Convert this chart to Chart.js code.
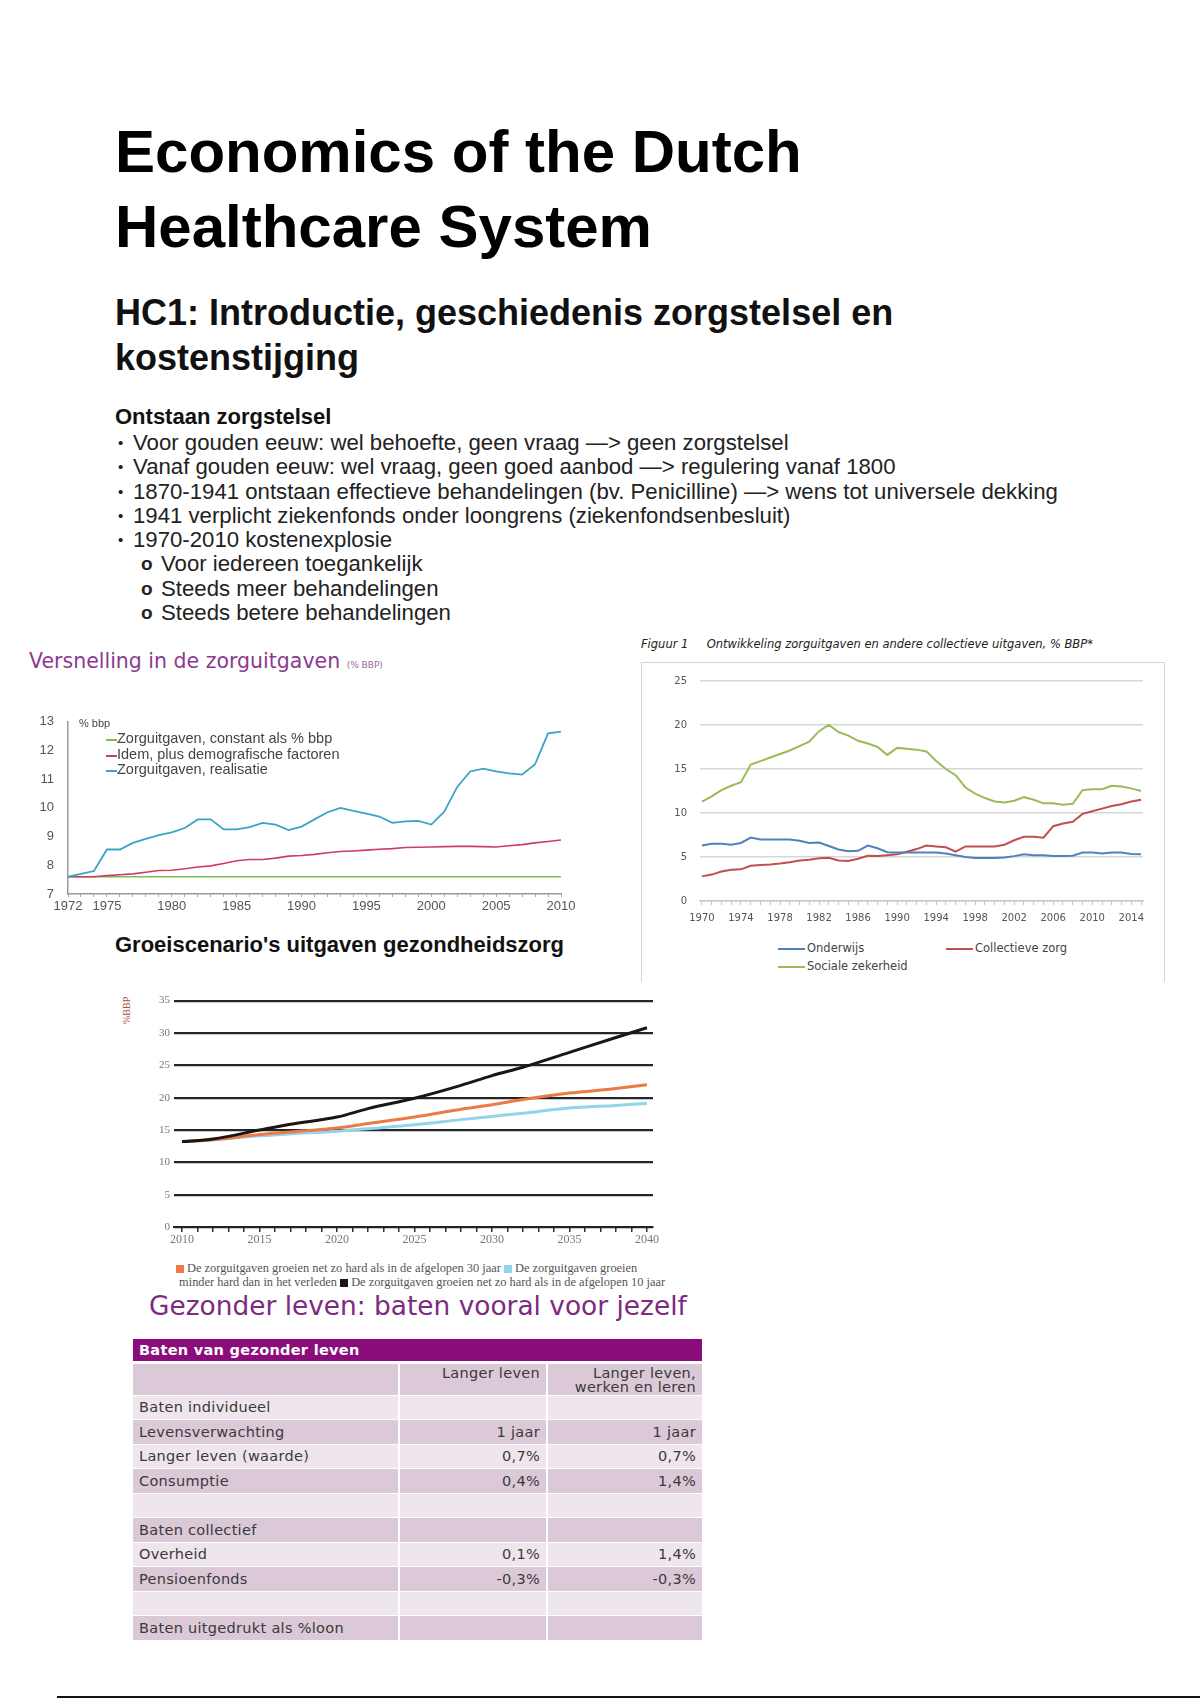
<!DOCTYPE html>
<html lang="nl">
<head>
<meta charset="utf-8">
<title>Economics of the Dutch Healthcare System</title>
<script src="https://cdn.jsdelivr.net/npm/chart.js@4.4.0/dist/chart.umd.min.js"></script>
<style>
  html, body { margin: 0; padding: 0; background: #fff; }
  body { width: 1200px; height: 1700px; position: relative; overflow: hidden; font-family: "Liberation Sans", Arial, sans-serif; color: #111; }
  .abs { position: absolute; white-space: nowrap; }
  #titel { left: 115px; top: 114px; font-size: 60px; line-height: 75px; font-weight: bold; color: #000; }
  #hc1 { left: 115px; top: 290px; font-size: 36px; line-height: 45px; font-weight: bold; color: #111; }
  #ontstaan { left: 115px; top: 405px; font-size: 22px; line-height: 24px; font-weight: bold; }
  #punten { left: 118px; top: 431px; font-size: 22.2px; line-height: 24.3px; color: #222; }
  #punten div { position: relative; padding-left: 15px; }
  #punten div.sub { padding-left: 43px; }
  #punten div::before { content: "\2022"; position: absolute; left: 0; font-size: 15px; }
  #punten div.sub::before { content: "o"; left: 23px; font-weight: bold; font-size: 19px; }
  #titel1 { left: 29px; top: 651px; font-family: "DejaVu Sans", sans-serif; font-size: 20.5px; line-height: 20.5px; color: #8b3a8f; }
  #titel1 small { font-size: 9px; color: #9a6a9a; }
  #legenda1 { left: 79px; top: 716px; font-size: 14.5px; line-height: 15.3px; color: #444; }
  #legenda1 .kop { font-size: 11px; }
  #legenda1 .item { padding-left: 38px; position: relative; }
  #legenda1 .item span { position: absolute; left: 27px; top: 8px; width: 11px; height: 2px; }
  #figuur2kader { position: absolute; left: 641px; top: 662px; width: 524px; height: 320px; border: 1.5px solid #c9d6e4; border-bottom: none; box-sizing: border-box; }
  #titel2 { left: 641px; top: 637px; font-family: "DejaVu Sans", sans-serif; font-style: italic; font-size: 11.5px; color: #222; }
  .leg2 { font-family: "DejaVu Sans", sans-serif; font-size: 11.5px; color: #444; }
  .leg2 span { position: absolute; left: -29px; top: 7px; width: 27px; height: 2px; }
  #groei { left: 115px; top: 934px; font-size: 22px; line-height: 22px; font-weight: bold; color: #111; }
  #bbp { left: 121px; font-family: "Liberation Serif", serif; font-size: 10px; color: #a0503c; transform: rotate(-90deg); transform-origin: left top; top: 1024px; }
  #legenda3 { left: 176px; top: 1261px; font-family: "Liberation Serif", serif; font-size: 12.4px; line-height: 14px; color: #555; }
  #legenda3 i { display: inline-block; width: 8px; height: 8px; margin-right: 3px; vertical-align: -1px; }
  #gezonder { left: 149px; top: 1293px; font-family: "DejaVu Sans", sans-serif; font-size: 26.4px; line-height: 26.4px; color: #7d2a7f; }
  #baten { position: absolute; left: 133px; top: 1339px; width: 569px; border-collapse: collapse; font-family: "DejaVu Sans", sans-serif; font-size: 14.5px; letter-spacing: 0.3px; color: #3a3a3a; }
  #baten td { padding: 0 6px; height: 24.5px; box-sizing: border-box; border-bottom: 1px solid #fff; white-space: nowrap; }
  #baten td:nth-child(1) { width: 266px; border-right: 2px solid #fff; }
  #baten td:nth-child(2) { width: 148px; border-right: 2px solid #fff; text-align: right; }
  #baten td:nth-child(3) { text-align: right; }
  #baten tr.kop td { background: #8b0d7c; color: #fff; font-weight: bold; height: 23px; border-bottom: 3px solid #fff; border-right: none; }
  #baten tr.sub td { height: 32px; vertical-align: top; padding-top: 2px; line-height: 14.5px; }
  #baten tr.donker td { background: #dcc9d7; }
  #baten tr.licht td { background: #efe5ed; }
  #lijn { position: absolute; left: 57px; top: 1696px; width: 1143px; height: 2px; background: #111; }
  canvas { position: absolute; }
</style>
</head>
<body>

<div id="titel" class="abs">Economics of the Dutch<br>Healthcare System</div>
<div id="hc1" class="abs">HC1: Introductie, geschiedenis zorgstelsel en<br>kostenstijging</div>
<div id="ontstaan" class="abs">Ontstaan zorgstelsel</div>
<div id="punten" class="abs">
  <div>Voor gouden eeuw: wel behoefte, geen vraag —&gt; geen zorgstelsel</div>
  <div>Vanaf gouden eeuw: wel vraag, geen goed aanbod —&gt; regulering vanaf 1800</div>
  <div>1870-1941 ontstaan effectieve behandelingen (bv. Penicilline) —&gt; wens tot universele dekking</div>
  <div>1941 verplicht ziekenfonds onder loongrens (ziekenfondsenbesluit)</div>
  <div>1970-2010 kostenexplosie</div>
  <div class="sub">Voor iedereen toegankelijk</div>
  <div class="sub">Steeds meer behandelingen</div>
  <div class="sub">Steeds betere behandelingen</div>
</div>

<!-- grafiek 1 -->
<div id="titel1" class="abs">Versnelling in de zorguitgaven <small>(% BBP)</small></div>
<canvas id="grafiek1" width="580" height="225" style="left:20px;top:700px"></canvas>
<div id="legenda1" class="abs"></div>

<!-- grafiek 2 -->
<div id="titel2" class="abs">Figuur 1&nbsp;&nbsp;&nbsp;&nbsp; Ontwikkeling zorguitgaven en andere collectieve uitgaven, % BBP*</div>
<div id="figuur2kader"></div>
<canvas id="grafiek2" width="525" height="270" style="left:641px;top:662px"></canvas>
<div id="legenda2"></div>

<!-- grafiek 3 -->
<div id="groei" class="abs">Groeiscenario's uitgaven gezondheidszorg</div>
<div id="bbp" class="abs">%BBP</div>
<canvas id="grafiek3" width="560" height="262" style="left:110px;top:990px"></canvas>
<div id="legenda3" class="abs"></div>

<!-- tabel -->
<div id="gezonder" class="abs">Gezonder leven: baten vooral voor jezelf</div>
<table id="baten"></table>

<div id="lijn"></div>

<script>
// Grafiek 1: versnelling in de zorguitgaven (% bbp)
const jaren1 = [1972, 1973, 1974, 1975, 1976, 1977, 1978, 1979, 1980, 1981, 1982, 1983, 1984,
    1985, 1986, 1987, 1988, 1989, 1990, 1991, 1992, 1993, 1994, 1995, 1996, 1997, 1998, 1999,
    2000, 2001, 2002, 2003, 2004, 2005, 2006, 2007, 2008, 2009, 2010];
const xLabels1 = [1972, 1975, 1980, 1985, 1990, 1995, 2000, 2005, 2010];
const constant1 = [7.6, 7.6, 7.6, 7.6, 7.6, 7.6, 7.6, 7.6, 7.6, 7.6, 7.6, 7.6, 7.6,
    7.6, 7.6, 7.6, 7.6, 7.6, 7.6, 7.6, 7.6, 7.6, 7.6, 7.6, 7.6, 7.6, 7.6, 7.6,
    7.6, 7.6, 7.6, 7.6, 7.6, 7.6, 7.6, 7.6, 7.6, 7.6, 7.6];
const demografie1 = [7.6, 7.6, 7.6, 7.64, 7.67, 7.7, 7.76, 7.82, 7.83, 7.88, 7.94, 7.98, 8.06,
    8.16, 8.2, 8.2, 8.25, 8.32, 8.34, 8.38, 8.44, 8.48, 8.5, 8.53, 8.56, 8.58, 8.62, 8.63,
    8.64, 8.65, 8.66, 8.66, 8.65, 8.64, 8.68, 8.72, 8.78, 8.83, 8.88];
const realisatie1 = [7.6, 7.7, 7.8, 8.55, 8.55, 8.78, 8.92, 9.05, 9.15, 9.3, 9.6, 9.6, 9.25,
    9.25, 9.33, 9.48, 9.42, 9.23, 9.35, 9.6, 9.85, 10.0, 9.9, 9.8, 9.7, 9.48, 9.53, 9.55,
    9.42, 9.87, 10.73, 11.27, 11.37, 11.27, 11.2, 11.16, 11.52, 12.6, 12.66];
const namen1 = ["Zorguitgaven, constant als % bbp", "Idem, plus demografische factoren", "Zorguitgaven, realisatie"];
const kleuren1 = ["#7cc043", "#d03a68", "#3ba3c6"];

// Grafiek 2: ontwikkeling zorguitgaven en andere collectieve uitgaven
const jaren2 = [1970, 1971, 1972, 1973, 1974, 1975, 1976, 1977, 1978, 1979, 1980, 1981, 1982,
    1983, 1984, 1985, 1986, 1987, 1988, 1989, 1990, 1991, 1992, 1993, 1994, 1995, 1996, 1997,
    1998, 1999, 2000, 2001, 2002, 2003, 2004, 2005, 2006, 2007, 2008, 2009, 2010, 2011, 2012,
    2013, 2014, 2015];
const xLabels2 = [1970, 1974, 1978, 1982, 1986, 1990, 1994, 1998, 2002, 2006, 2010, 2014];
const onderwijs2 = [6.3, 6.5, 6.5, 6.4, 6.6, 7.2, 7.0, 7.0, 7.0, 7.0, 6.85, 6.6, 6.65,
    6.25, 5.85, 5.65, 5.7, 6.3, 6.0, 5.55, 5.5, 5.5, 5.5, 5.5, 5.5, 5.4, 5.2, 5.0,
    4.9, 4.9, 4.9, 4.95, 5.1, 5.3, 5.2, 5.2, 5.1, 5.1, 5.15, 5.5, 5.5, 5.4, 5.5,
    5.5, 5.35, 5.3];
const zorg2 = [2.8, 3.0, 3.35, 3.55, 3.6, 4.0, 4.1, 4.15, 4.25, 4.4, 4.6, 4.7, 4.85,
    4.9, 4.6, 4.55, 4.8, 5.15, 5.1, 5.2, 5.3, 5.6, 5.9, 6.3, 6.2, 6.1, 5.6, 6.2,
    6.2, 6.2, 6.2, 6.4, 6.9, 7.3, 7.3, 7.2, 8.5, 8.8, 9.0, 9.9, 10.2, 10.5, 10.8,
    11.0, 11.3, 11.5];
const sociaal2 = [11.3, 11.9, 12.6, 13.1, 13.5, 15.5, 15.9, 16.3, 16.7, 17.1, 17.6, 18.1, 19.3,
    20.0, 19.2, 18.8, 18.2, 17.9, 17.5, 16.6, 17.4, 17.3, 17.2, 17.0, 15.9, 15.0, 14.3, 12.9,
    12.2, 11.7, 11.3, 11.2, 11.4, 11.8, 11.5, 11.1, 11.1, 10.95, 11.05, 12.6, 12.7, 12.7, 13.1,
    13.0, 12.8, 12.5];
const namen2 = ["Onderwijs", "Collectieve zorg", "Sociale zekerheid"];
const kleuren2 = ["#4f81bd", "#c0504d", "#9bbb59"];

// Grafiek 3: groeiscenario's uitgaven gezondheidszorg
const jaren3 = [2010, 2012, 2015, 2017, 2020, 2022, 2025, 2028, 2030, 2032, 2035, 2038, 2040];
const xLabels3 = [2010, 2015, 2020, 2025, 2030, 2035, 2040];
const tienJaar3 = [13.2, 13.6, 15.0, 15.9, 17.0, 18.3, 19.9, 21.9, 23.4, 24.7, 27.0, 29.3, 30.8];
const dertigJaar3 = [13.2, 13.5, 14.3, 14.7, 15.3, 16.0, 17.0, 18.2, 18.9, 19.7, 20.7, 21.4, 22.0];
const minder3 = [13.2, 13.5, 14.1, 14.4, 14.8, 15.2, 15.8, 16.6, 17.1, 17.6, 18.4, 18.8, 19.1];
const namen3 = ["De zorguitgaven groeien net zo hard als in de afgelopen 30 jaar",
    "De zorguitgaven groeien minder hard dan in het verleden",
    "De zorguitgaven groeien net zo hard als in de afgelopen 10 jaar"];
const kleuren3 = ["#ec7a45", "#93d3ec", "#1e1410"];

// Tabel: baten van gezonder leven
const tabelRijen = ["Baten individueel", "Levensverwachting", "Langer leven (waarde)", "Consumptie", "",
    "Baten collectief", "Overheid", "Pensioenfonds", "", "Baten uitgedrukt als %loon"];
const langerLeven = ["", "1 jaar", "0,7%", "0,4%", "", "", "0,1%", "-0,3%", "", ""];
const langerWerken = ["", "1 jaar", "0,7%", "1,4%", "", "", "1,4%", "-0,3%", "", ""];

function punten(xs, ys) {
    return xs.map((x, i) => ({ x: x, y: ys[i] }));
}

function lijn(label, xs, ys, kleur, dikte) {
    return {
        label: label,
        data: punten(xs, ys),
        borderColor: kleur,
        backgroundColor: kleur,
        borderWidth: dikte,
        pointRadius: 0,
        fill: false,
        tension: 0
    };
}

// tick op elk heel jaar tussen min en max
function heleJaren(a) {
    const t = [];
    for (let j = Math.ceil(a.min); j <= Math.floor(a.max); j++) t.push({ value: j });
    a.ticks = t;
}

Chart.defaults.animation = false;
Chart.defaults.plugins.legend.display = false;
Chart.defaults.plugins.tooltip.enabled = false;

// ---------- grafiek 1 ----------
new Chart(document.getElementById("grafiek1"), {
    type: "line",
    data: {
        datasets: [
            lijn(namen1[2], jaren1, realisatie1, kleuren1[2], 1.8),
            lijn(namen1[1], jaren1, demografie1, kleuren1[1], 1.6),
            lijn(namen1[0], jaren1, constant1, kleuren1[0], 1.6)
        ]
    },
    options: {
        responsive: false,
        layout: { autoPadding: false, padding: { left: 0, right: 39, top: 18, bottom: 0 } },
        scales: {
            x: {
                type: "linear", min: 1972, max: 2010,
                afterFit: a => { a.height = 31; },
                afterBuildTicks: heleJaren,
                ticks: {
                    autoSkip: false, maxRotation: 0, padding: 2, color: "#555",
                    font: { family: "Liberation Sans", size: 13 },
                    callback: v => xLabels1.includes(v) ? String(v) : ""
                },
                grid: { drawOnChartArea: false, drawTicks: true, tickLength: 3, color: "#aaa" },
                border: { display: true, color: "#999", width: 1.5 }
            },
            y: {
                min: 7, max: 13,
                afterFit: a => { a.width = 48; },
                ticks: { stepSize: 1, padding: 14, color: "#555", font: { family: "Liberation Sans", size: 13 } },
                grid: { display: false, drawTicks: false },
                border: { display: true, color: "#999", width: 1.5 }
            }
        }
    }
});

// legenda grafiek 1
const legenda1 = document.getElementById("legenda1");
legenda1.innerHTML = '<div class="kop">% bbp</div>' + namen1.map((n, i) =>
    `<div class="item"><span style="background:${kleuren1[i]}"></span>${n}</div>`).join("");

// ---------- grafiek 2 ----------
new Chart(document.getElementById("grafiek2"), {
    type: "line",
    data: {
        datasets: [
            lijn(namen2[0], jaren2, onderwijs2, kleuren2[0], 2),
            lijn(namen2[1], jaren2, zorg2, kleuren2[1], 2),
            lijn(namen2[2], jaren2, sociaal2, kleuren2[2], 2)
        ]
    },
    options: {
        responsive: false,
        layout: { autoPadding: false, padding: { left: 0, right: 23, top: 13, bottom: 0 } },
        scales: {
            x: {
                type: "linear", min: 1969.8, max: 2015.2,
                afterFit: a => { a.height = 31; },
                afterBuildTicks: heleJaren,
                ticks: {
                    autoSkip: false, maxRotation: 0, padding: 7, color: "#555",
                    font: { family: "DejaVu Sans", size: 10 },
                    callback: v => xLabels2.includes(v) ? String(v) : ""
                },
                grid: { drawOnChartArea: false, drawTicks: true, tickLength: 4, color: "#c8c8c8" },
                border: { display: true, color: "#c8c8c8", width: 1.5 }
            },
            y: {
                min: 0, max: 25,
                afterFit: a => { a.width = 59; },
                ticks: { stepSize: 5, padding: 13, color: "#555", font: { family: "DejaVu Sans", size: 10 } },
                grid: { color: "#d6d6d6", lineWidth: 1.5, drawTicks: false },
                border: { display: false }
            }
        }
    }
});

// legenda grafiek 2
const plekken2 = [[807, 941], [975, 941], [807, 959]];
document.getElementById("legenda2").innerHTML = namen2.map((n, i) =>
    `<div class="abs leg2" style="left:${plekken2[i][0]}px;top:${plekken2[i][1]}px"><span style="background:${kleuren2[i]}"></span>${n}</div>`).join("");

// ---------- grafiek 3 ----------
function curve(label, ys, kleur) {
    const d = lijn(label, jaren3, ys, kleur, 3);
    d.cubicInterpolationMode = "monotone";
    return d;
}

new Chart(document.getElementById("grafiek3"), {
    type: "line",
    data: {
        datasets: [
            curve(namen3[2], tienJaar3, kleuren3[2]),
            curve(namen3[0], dertigJaar3, kleuren3[0]),
            curve(namen3[1], minder3, kleuren3[1])
        ]
    },
    options: {
        responsive: false,
        layout: { autoPadding: false, padding: { left: 0, right: 17, top: 8, bottom: 0 } },
        scales: {
            x: {
                type: "linear", min: 2009.48, max: 2040.39,
                afterFit: a => { a.height = 25; },
                afterBuildTicks: heleJaren,
                ticks: {
                    autoSkip: false, maxRotation: 0, padding: 1, color: "#777",
                    font: { family: "Liberation Serif", size: 12 },
                    callback: v => xLabels3.includes(v) ? String(v) : ""
                },
                grid: { drawOnChartArea: false, drawTicks: true, tickLength: 5, color: "#333", lineWidth: 1.5 },
                border: { display: true, color: "#222", width: 2 }
            },
            y: {
                min: 0, max: 35,
                afterFit: a => { a.width = 64; },
                ticks: { stepSize: 5, padding: 4, color: "#777", font: { family: "Liberation Serif", size: 11 } },
                grid: { color: "#262626", lineWidth: 2.2, drawTicks: false },
                border: { display: false }
            }
        }
    }
});

// legenda grafiek 3 (twee regels zoals in het origineel)
const blokje = k => `<i style="background:${kleuren3[k]}"></i>`;
document.getElementById("legenda3").innerHTML =
    blokje(0) + namen3[0] + " " + blokje(1) + "De zorguitgaven groeien<br>" +
    "&nbsp;minder hard dan in het verleden " + blokje(2) + namen3[2];

// ---------- tabel ----------
const tabel = document.getElementById("baten");
let html = `<tr class="kop"><td colspan="3">Baten van gezonder leven</td></tr>`;
html += `<tr class="sub donker"><td></td><td>Langer leven</td><td>Langer leven,<br>werken en leren</td></tr>`;
tabelRijen.forEach((rij, i) => {
    const klasse = i % 2 === 0 ? "licht" : "donker";
    html += `<tr class="${klasse}"><td>${rij}</td><td>${langerLeven[i]}</td><td>${langerWerken[i]}</td></tr>`;
});
tabel.innerHTML = html;
</script>
</body>
</html>
